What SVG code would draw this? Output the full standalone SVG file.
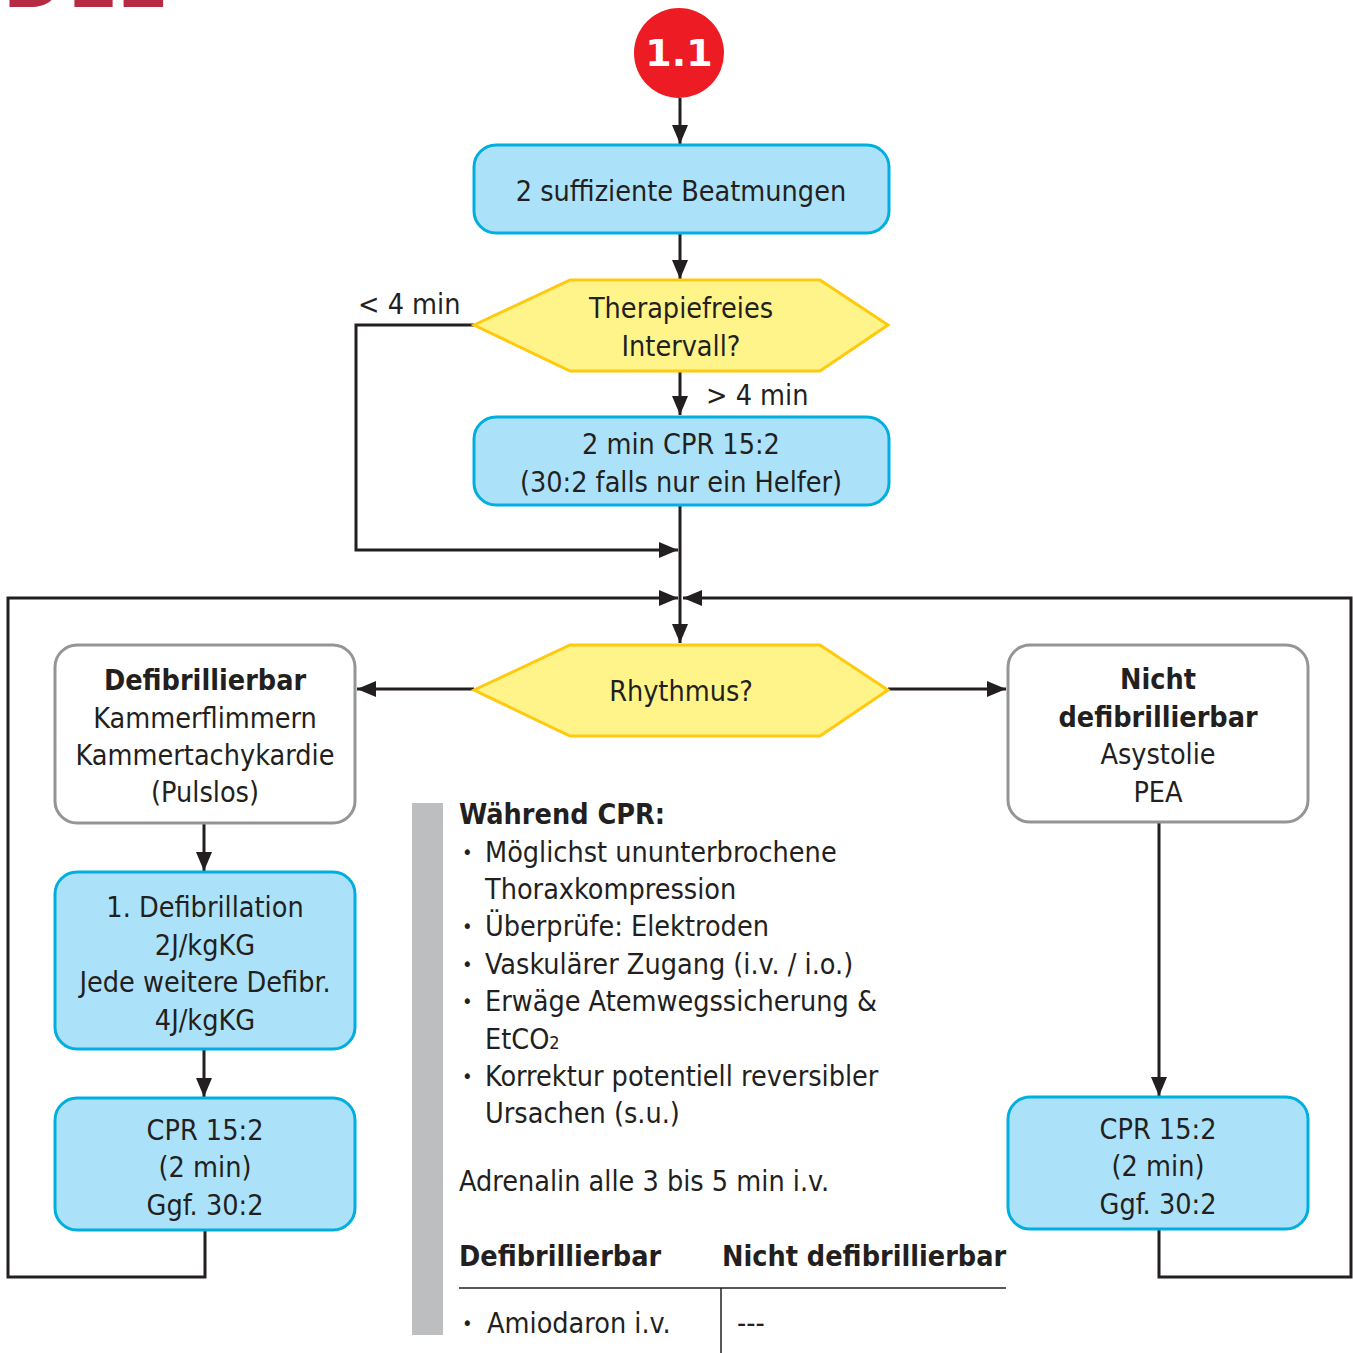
<svg xmlns="http://www.w3.org/2000/svg" width="1353" height="1353" viewBox="0 0 1353 1353">
  <style>
    text { font-family: "Liberation Sans Narrow", "DejaVu Sans Condensed", "Liberation Sans", sans-serif; fill: #231f20; font-size: 28.5px; }
    .c { text-anchor: middle; }
    .b { font-weight: bold; }
    .dot { font-size: 20px; }
    .blue { fill: #abe2f9; stroke: #00aedf; stroke-width: 3; }
    .white { fill: #ffffff; stroke: #939598; stroke-width: 3; }
    .hex { fill: #fff48a; stroke: #ffc90e; stroke-width: 3; }
    .arr { fill: none; stroke: #231f20; stroke-width: 3; marker-end: url(#ah); }
  </style>
  <defs>
    <marker id="ah" markerUnits="userSpaceOnUse" markerWidth="20" markerHeight="16" refX="19" refY="8" orient="auto">
      <path d="M0,0 L19,8 L0,16 z" fill="#231f20"/>
    </marker>
  </defs>

  <rect width="1353" height="1353" fill="#ffffff"/>

  <!-- chapter heading, cut at the top edge -->
  <text x="4" y="7" style="font-family:'Liberation Sans',sans-serif;font-weight:bold;font-size:82px;fill:#b72a43;letter-spacing:6px">D12</text>

  <!-- connectors -->
  <g id="connectors">
    <line class="arr" x1="680" y1="98" x2="680" y2="144"/>
    <line class="arr" x1="680" y1="233" x2="680" y2="279"/>
    <line class="arr" x1="680" y1="371" x2="680" y2="415"/>
    <polyline class="arr" points="474,325 356,325 356,550 678,550"/>
    <line class="arr" x1="680" y1="505" x2="680" y2="643"/>
    <polyline class="arr" points="205,1230 205,1277 8,1277 8,598 678,598"/>
    <polyline class="arr" points="1159,1229 1159,1277 1351,1277 1351,598 683,598"/>
    <line class="arr" x1="474" y1="689" x2="357" y2="689"/>
    <line class="arr" x1="888" y1="689" x2="1006" y2="689"/>
    <line class="arr" x1="204" y1="823" x2="204" y2="871"/>
    <line class="arr" x1="204" y1="1049" x2="204" y2="1097"/>
    <line class="arr" x1="1159" y1="822" x2="1159" y2="1096"/>
    <text x="358" y="314">&lt; 4 min</text>
    <text x="706" y="405">&gt; 4 min</text>
  </g>

  <g id="start">
    <circle cx="679" cy="53" r="45" fill="#ed1c24"/>
    <text class="c b" x="679" y="66" style="fill:#ffffff;font-size:38px;font-family:'DejaVu Sans','Liberation Sans',sans-serif">1.1</text>
  </g>

  <g id="beatmung">
    <rect class="blue" x="474" y="145" width="415" height="88" rx="22"/>
    <text class="c" x="681" y="201">2 suffiziente Beatmungen</text>
  </g>

  <g id="intervall">
    <polygon class="hex" points="474,325 570,280 820,280 888,325 820,371 570,371"/>
    <text class="c" x="681" y="318">Therapiefreies</text>
    <text class="c" x="681" y="356">Intervall?</text>
  </g>

  <g id="cpr-start">
    <rect class="blue" x="474" y="417" width="415" height="88" rx="22"/>
    <text class="c" x="681" y="454">2 min CPR 15:2</text>
    <text class="c" x="681" y="492">(30:2 falls nur ein Helfer)</text>
  </g>

  <g id="rhythmus">
    <polygon class="hex" points="474,690 570,645 820,645 888,690 820,736 570,736"/>
    <text class="c" x="681" y="701">Rhythmus?</text>
  </g>

  <g id="defibrillierbar">
    <rect class="white" x="55" y="645" width="300" height="178" rx="22"/>
    <text class="c b" x="205" y="690">Defibrillierbar</text>
    <text class="c" x="205" y="728">Kammerflimmern</text>
    <text class="c" x="205" y="765">Kammertachykardie</text>
    <text class="c" x="205" y="802">(Pulslos)</text>
  </g>

  <g id="nicht-defibrillierbar">
    <rect class="white" x="1008" y="645" width="300" height="177" rx="22"/>
    <text class="c b" x="1158" y="689">Nicht</text>
    <text class="c b" x="1158" y="727">defibrillierbar</text>
    <text class="c" x="1158" y="764">Asystolie</text>
    <text class="c" x="1158" y="802">PEA</text>
  </g>

  <g id="defibrillation">
    <rect class="blue" x="55" y="872" width="300" height="177" rx="22"/>
    <text class="c" x="205" y="917">1. Defibrillation</text>
    <text class="c" x="205" y="955">2J/kgKG</text>
    <text class="c" x="205" y="992">Jede weitere Defibr.</text>
    <text class="c" x="205" y="1030">4J/kgKG</text>
  </g>

  <g id="cpr-links">
    <rect class="blue" x="55" y="1098" width="300" height="132" rx="22"/>
    <text class="c" x="205" y="1140">CPR 15:2</text>
    <text class="c" x="205" y="1177">(2 min)</text>
    <text class="c" x="205" y="1215">Ggf. 30:2</text>
  </g>

  <g id="cpr-rechts">
    <rect class="blue" x="1008" y="1097" width="300" height="132" rx="22"/>
    <text class="c" x="1158" y="1139">CPR 15:2</text>
    <text class="c" x="1158" y="1176">(2 min)</text>
    <text class="c" x="1158" y="1214">Ggf. 30:2</text>
  </g>

  <g id="waehrend-cpr">
    <rect x="412" y="803" width="31" height="532" fill="#bcbec0"/>
    <text class="b" x="459" y="824">Während CPR:</text>
    <text class="dot" x="462" y="859">•</text><text x="485" y="862">Möglichst ununterbrochene</text>
    <text x="485" y="899">Thoraxkompression</text>
    <text class="dot" x="462" y="933">•</text><text x="485" y="936">Überprüfe: Elektroden</text>
    <text class="dot" x="462" y="971">•</text><text x="485" y="974">Vaskulärer Zugang (i.v. / i.o.)</text>
    <text class="dot" x="462" y="1008">•</text><text x="485" y="1011">Erwäge Atemwegssicherung &amp;</text>
    <text x="485" y="1049">EtCO<tspan style="font-size:18px">2</tspan></text>
    <text class="dot" x="462" y="1083">•</text><text x="485" y="1086">Korrektur potentiell reversibler</text>
    <text x="485" y="1123">Ursachen (s.u.)</text>
    <text x="459" y="1191">Adrenalin alle 3 bis 5 min i.v.</text>
    <text class="b" x="459" y="1266">Defibrillierbar</text>
    <text class="b" x="722" y="1266">Nicht defibrillierbar</text>
    <line x1="459" y1="1288" x2="1006" y2="1288" stroke="#231f20" stroke-width="1.5"/>
    <line x1="721" y1="1288" x2="721" y2="1353" stroke="#231f20" stroke-width="1.5"/>
    <text class="dot" x="462" y="1330">•</text><text x="487" y="1333">Amiodaron i.v.</text>
    <text x="737" y="1333">---</text>
  </g>
</svg>
